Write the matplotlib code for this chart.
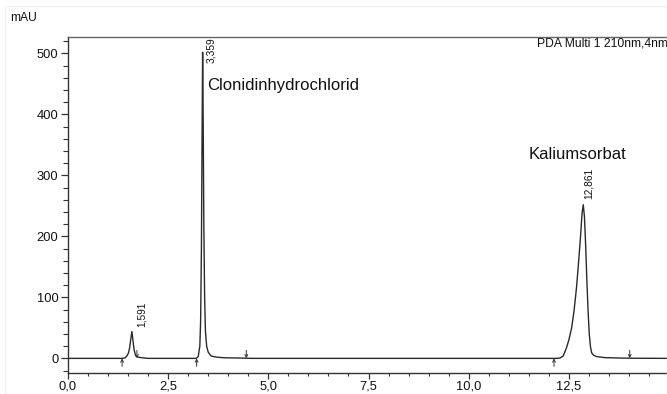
import matplotlib
matplotlib.use("Agg")
import matplotlib.pyplot as plt
from matplotlib.ticker import MultipleLocator, FuncFormatter
from matplotlib.patches import Rectangle

plt.rcParams['font.family'] = ['Liberation Sans', 'DejaVu Sans']

# Chromatogram trace (time in min, signal in mAU)
trace_time = [0.0, 1.35, 1.43, 1.48, 1.51, 1.54, 1.57, 1.595, 1.62, 1.65, 1.69, 1.75, 1.85, 2.0,
              3.20, 3.25, 3.29, 3.31, 3.33, 3.345, 3.36, 3.375, 3.39, 3.41, 3.43, 3.46, 3.50,
              3.57, 3.70, 3.90, 4.30, 4.60,
              12.20, 12.28, 12.36, 12.44, 12.50, 12.57, 12.63, 12.69, 12.74, 12.79, 12.83,
              12.86, 12.89, 12.92, 12.95, 12.98, 13.01, 13.04, 13.07, 13.12, 13.19,
              13.40, 13.80, 14.10, 14.95]
trace_mau = [0.0, 0.0, 1.0, 5.0, 9.0, 18.0, 33.0, 44.0, 30.0, 14.0, 4.0, 2.0, 1.0, 0.0,
             0.0, 3.0, 20.0, 60.0, 180.0, 350.0, 502.0, 380.0, 220.0, 100.0, 45.0, 20.0, 10.0,
             4.0, 2.0, 1.0, 0.5, 0.0,
             0.0, 0.5, 4.0, 17.0, 30.0, 50.0, 78.0, 115.0, 155.0, 198.0, 238.0,
             252.0, 232.0, 185.0, 128.0, 78.0, 40.0, 19.0, 9.0, 5.0, 3.0,
             1.2, 0.5, 0.2, 0.0]

# Peak labels
peak_rt = [1.591, 3.359, 12.861]
peak_height = [44.0, 502.0, 252.0]
peak_rt_labels = ["1,591", "3,359", "12,861"]

# Integration markers
start_marks = [1.35, 3.21, 12.13]
end_marks = [1.72, 4.45, 14.02]

# Compound names
compound_names = ["Clonidinhydrochlorid", "Kaliumsorbat"]
compound_pos = [(3.48, 447.0), (11.5, 334.0)]

x_ticks = [0.0, 2.5, 5.0, 7.5, 10.0, 12.5]
y_ticks = [0, 100, 200, 300, 400, 500]

W, H = 667, 394
fig = plt.figure(figsize=(W / 100, H / 100), dpi=100)
fig.patches.append(Rectangle((5 / W, 0.0), 1 - 5 / W, 1 - 6 / H, transform=fig.transFigure,
                             fill=False, edgecolor='#f2f2f2', linewidth=1.0))

ax = fig.add_axes([68 / W, 21 / H, 1 - 68 / W, (373 - 37) / H])
ax.set_xlim(0, 14.95)
ax.set_ylim(-24, 527)

ax.plot(trace_time, trace_mau, color='#2a2a2a', linewidth=1.0, solid_joinstyle='round')

for t in start_marks:
    ax.annotate('', xy=(t, 0), xytext=(0, -8), textcoords='offset pixels',
                xycoords='data',
                arrowprops=dict(arrowstyle='->', color='#333333', lw=0.7,
                                shrinkA=0, shrinkB=0, mutation_scale=5))
for t in end_marks:
    ax.annotate('', xy=(t, 0), xytext=(0, 8), textcoords='offset pixels',
                xycoords='data',
                arrowprops=dict(arrowstyle='->', color='#333333', lw=0.7,
                                shrinkA=0, shrinkB=0, mutation_scale=5))

label_offsets = [(10, 5), (8, -11), (5, 6)]
for t, h, lab, off in zip(peak_rt, peak_height, peak_rt_labels, label_offsets):
    ax.annotate(lab, xy=(t, h), xytext=off, textcoords='offset pixels',
                rotation=90, ha='center', va='bottom', fontsize=7.3, color='#111111')

for name, (x, y) in zip(compound_names, compound_pos):
    ax.text(x, y, name, fontsize=12, color='#111111', ha='left', va='center')

ax.text(537 / W, 1 - 38 / H, "PDA Multi 1 210nm,4nm", transform=fig.transFigure,
        fontsize=8.7, ha='left', va='top', color='#111111')
fig.text(10 / W, 1 - 18 / H, "mAU", fontsize=8.7, ha='left', va='center', color='#111111')

ax.xaxis.set_minor_locator(MultipleLocator(0.5))
ax.yaxis.set_minor_locator(MultipleLocator(20))
ax.set_xticks(x_ticks)
ax.set_yticks(y_ticks)
ax.xaxis.set_major_formatter(FuncFormatter(lambda v, p: f"{v:.1f}".replace('.', ',')))
ax.yaxis.set_major_formatter(FuncFormatter(lambda v, p: f"{v:.0f}"))

ax.tick_params(axis='both', which='major', direction='out', length=5, width=0.9,
               color='#333333', labelsize=9.3, labelcolor='#111111', pad=2)
ax.tick_params(axis='both', which='minor', direction='out', length=3.5, width=0.8,
               color='#333333')
ax.tick_params(axis='x', which='major', length=4.5, pad=1)
ax.tick_params(axis='x', which='minor', length=2.5)

for s in ['left', 'bottom']:
    ax.spines[s].set_color('#333333')
    ax.spines[s].set_linewidth(1.0)
ax.spines['top'].set_color('#666666')
ax.spines['top'].set_linewidth(1.0)
ax.spines['right'].set_visible(False)

fig.savefig('out.png', dpi=100)
